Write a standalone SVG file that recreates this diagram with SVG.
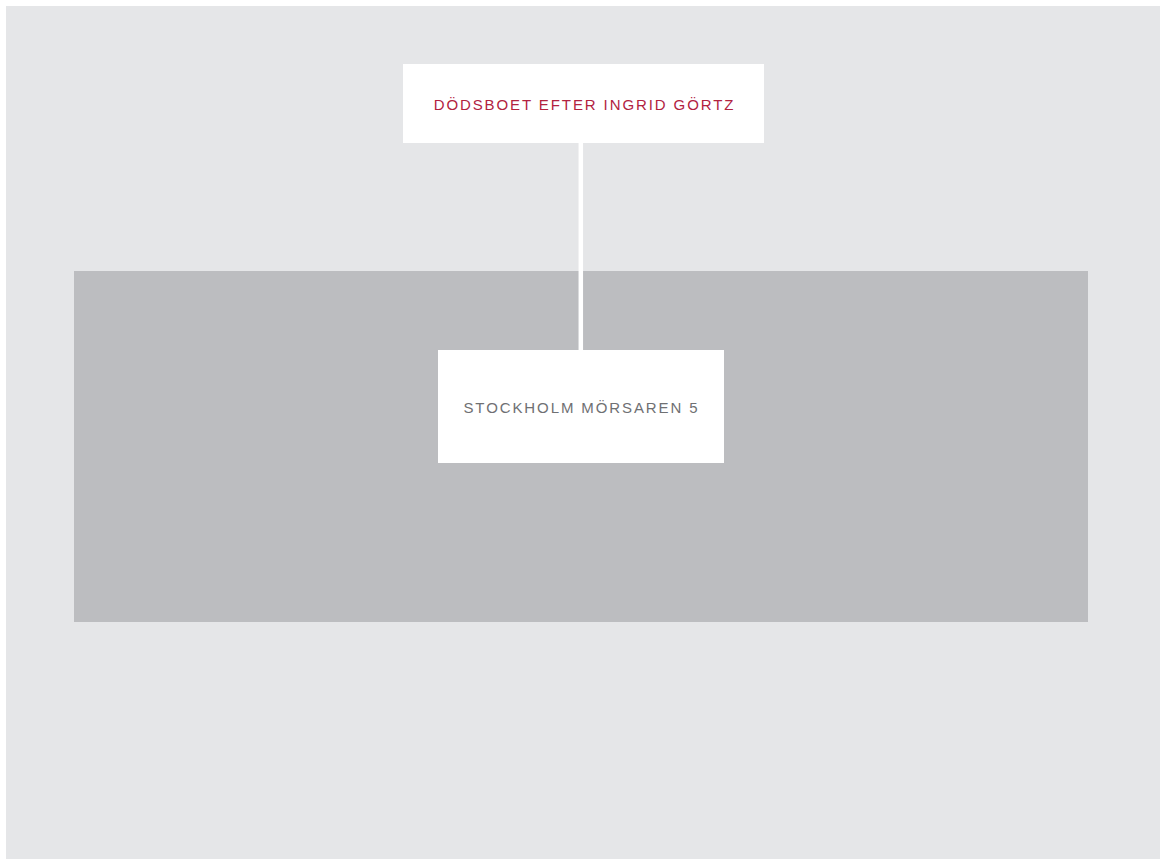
<svg xmlns="http://www.w3.org/2000/svg" width="1160" height="859" viewBox="0 0 1160 859">
<style>
.box{fill:#ffffff}
.lbl{font-family:"Liberation Sans",Arial,sans-serif;font-size:15px;letter-spacing:1.9px;text-anchor:middle}
</style>
<rect x="0" y="0" width="1160" height="859" fill="#ffffff"/>
<rect x="6" y="6" width="1154" height="853" fill="#e5e6e8"/>
<rect id="group" x="74" y="271" width="1014" height="351" fill="#bcbdc0"/>
<g id="connectors">
<line x1="580.8" y1="143" x2="580.8" y2="350" stroke="#ffffff" stroke-width="4.5"/>
</g>
<g id="node-estate">
<rect class="box" x="403" y="64" width="361" height="79"/>
<text class="lbl" x="584.5" y="110" fill="#b2223f">DÖDSBOET EFTER INGRID GÖRTZ</text>
</g>
<g id="node-property">
<rect class="box" x="438" y="350" width="286" height="113"/>
<text class="lbl" x="581.5" y="413" fill="#6f7073">STOCKHOLM MÖRSAREN 5</text>
</g>
</svg>
